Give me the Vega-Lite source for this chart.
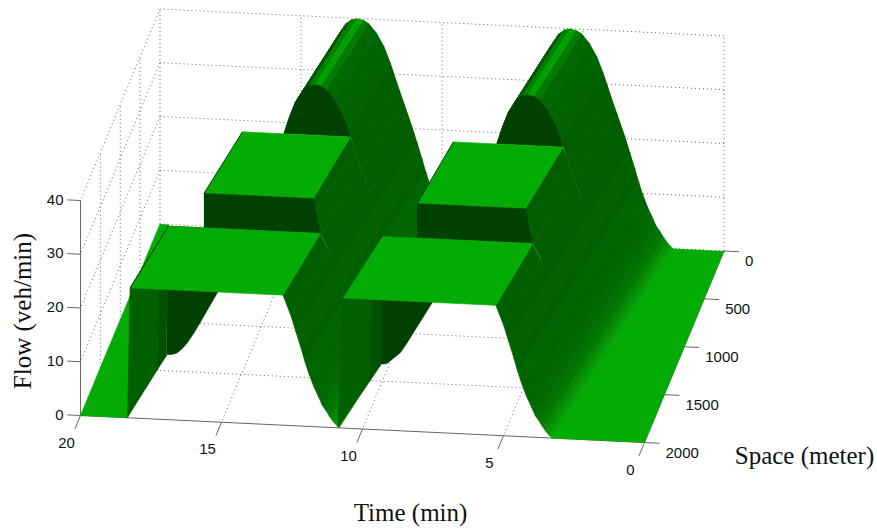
{"$schema":"https://vega.github.io/schema/vega-lite/v6.json","width":877,"height":532,"padding":0,"autosize":{"type":"none"},"background":"white","config":{"view":{"stroke":null}},
"datasets":{
"grid":[
{"g":"z0","t":0,"s":0,"z":0,"i":0},{"g":"z0","t":20,"s":0,"z":0,"i":1},
{"g":"z10","t":0,"s":0,"z":10,"i":0},{"g":"z10","t":20,"s":0,"z":10,"i":1},
{"g":"z20","t":0,"s":0,"z":20,"i":0},{"g":"z20","t":20,"s":0,"z":20,"i":1},
{"g":"z30","t":0,"s":0,"z":30,"i":0},{"g":"z30","t":20,"s":0,"z":30,"i":1},
{"g":"z40","t":0,"s":0,"z":40,"i":0},{"g":"z40","t":20,"s":0,"z":40,"i":1},
{"g":"t0","t":0,"s":0,"z":0,"i":0},{"g":"t0","t":0,"s":0,"z":40,"i":1},
{"g":"t5","t":5,"s":0,"z":0,"i":0},{"g":"t5","t":5,"s":0,"z":40,"i":1},
{"g":"t10","t":10,"s":0,"z":0,"i":0},{"g":"t10","t":10,"s":0,"z":40,"i":1},
{"g":"t15","t":15,"s":0,"z":0,"i":0},{"g":"t15","t":15,"s":0,"z":40,"i":1},
{"g":"t20","t":20,"s":0,"z":0,"i":0},{"g":"t20","t":20,"s":0,"z":40,"i":1},
{"g":"l10","t":20,"s":0,"z":10,"i":0},{"g":"l10","t":20,"s":2000,"z":10,"i":1},
{"g":"l20","t":20,"s":0,"z":20,"i":0},{"g":"l20","t":20,"s":2000,"z":20,"i":1},
{"g":"l30","t":20,"s":0,"z":30,"i":0},{"g":"l30","t":20,"s":2000,"z":30,"i":1},
{"g":"l40","t":20,"s":0,"z":40,"i":0},{"g":"l40","t":20,"s":2000,"z":40,"i":1},
{"g":"v500","t":20,"s":500,"z":0,"i":0},{"g":"v500","t":20,"s":500,"z":40,"i":1},
{"g":"v1000","t":20,"s":1000,"z":0,"i":0},{"g":"v1000","t":20,"s":1000,"z":40,"i":1},
{"g":"v1500","t":20,"s":1500,"z":0,"i":0},{"g":"v1500","t":20,"s":1500,"z":40,"i":1},
{"g":"f5","t":5,"s":0,"z":0,"i":0},{"g":"f5","t":5,"s":2000,"z":0,"i":1},
{"g":"f10","t":10,"s":0,"z":0,"i":0},{"g":"f10","t":10,"s":2000,"z":0,"i":1},
{"g":"f15","t":15,"s":0,"z":0,"i":0},{"g":"f15","t":15,"s":2000,"z":0,"i":1},
{"g":"h500","t":0,"s":500,"z":0,"i":0},{"g":"h500","t":20,"s":500,"z":0,"i":1},
{"g":"h1000","t":0,"s":1000,"z":0,"i":0},{"g":"h1000","t":20,"s":1000,"z":0,"i":1},
{"g":"h1500","t":0,"s":1500,"z":0,"i":0},{"g":"h1500","t":20,"s":1500,"z":0,"i":1}
],
"axes":[
{"g":"time","t":0,"s":2000,"z":0,"i":0},{"g":"time","t":20,"s":2000,"z":0,"i":1},
{"g":"space","t":0,"s":0,"z":0,"i":0},{"g":"space","t":0,"s":2000,"z":0,"i":1},
{"g":"flow","t":20,"s":2000,"z":0,"i":0},{"g":"flow","t":20,"s":2000,"z":40,"i":1},
{"g":"tt0","t":0,"s":2000,"z":0,"i":0},{"g":"tt0","t":0,"s":2140,"z":0,"i":1},
{"g":"tt5","t":5,"s":2000,"z":0,"i":0},{"g":"tt5","t":5,"s":2140,"z":0,"i":1},
{"g":"tt10","t":10,"s":2000,"z":0,"i":0},{"g":"tt10","t":10,"s":2140,"z":0,"i":1},
{"g":"tt15","t":15,"s":2000,"z":0,"i":0},{"g":"tt15","t":15,"s":2140,"z":0,"i":1},
{"g":"tt20","t":20,"s":2000,"z":0,"i":0},{"g":"tt20","t":20,"s":2140,"z":0,"i":1},
{"g":"st0","t":0,"s":0,"z":0,"i":0},{"g":"st0","t":-0.53,"s":0,"z":0,"i":1},
{"g":"st500","t":0,"s":500,"z":0,"i":0},{"g":"st500","t":-0.53,"s":500,"z":0,"i":1},
{"g":"st1000","t":0,"s":1000,"z":0,"i":0},{"g":"st1000","t":-0.53,"s":1000,"z":0,"i":1},
{"g":"st1500","t":0,"s":1500,"z":0,"i":0},{"g":"st1500","t":-0.53,"s":1500,"z":0,"i":1},
{"g":"st2000","t":0,"s":2000,"z":0,"i":0},{"g":"st2000","t":-0.53,"s":2000,"z":0,"i":1},
{"g":"zt0","t":20,"s":2000,"z":0,"i":0},{"g":"zt0","t":20.47,"s":2000,"z":0,"i":1},
{"g":"zt10","t":20,"s":2000,"z":10,"i":0},{"g":"zt10","t":20.47,"s":2000,"z":10,"i":1},
{"g":"zt20","t":20,"s":2000,"z":20,"i":0},{"g":"zt20","t":20.47,"s":2000,"z":20,"i":1},
{"g":"zt30","t":20,"s":2000,"z":30,"i":0},{"g":"zt30","t":20.47,"s":2000,"z":30,"i":1},
{"g":"zt40","t":20,"s":2000,"z":40,"i":0},{"g":"zt40","t":20.47,"s":2000,"z":40,"i":1}
],
"edges":[
{"g":"e1","t":18.24,"s":2000,"z":24.2,"i":0},{"g":"e1","t":17.8,"s":1350,"z":24.2,"i":1},
{"g":"e2","t":16.54,"s":1350,"z":30.6,"i":0},{"g":"e2","t":16.09,"s":700,"z":30.6,"i":1},
{"g":"e3","t":8.98,"s":1350,"z":30.6,"i":0},{"g":"e3","t":8.61,"s":700,"z":30.6,"i":1}
],
"faces":[
{"p":"floorL","f":"flat","i":0,"t":20,"s":0,"z":0},{"p":"floorL","f":"flat","i":1,"t":20,"s":2000,"z":0},{"p":"floorL","f":"flat","i":2,"t":18.33,"s":2000,"z":0},{"p":"floorL","f":"flat","i":3,"t":19.7,"s":0,"z":0},
{"p":"floorR","f":"flat","i":0,"t":1.8,"s":0,"z":0},{"p":"floorR","f":"flat","i":1,"t":3.28,"s":2000,"z":0},{"p":"floorR","f":"flat","i":2,"t":0,"s":2000,"z":0},{"p":"floorR","f":"flat","i":3,"t":0,"s":0,"z":0},

{"p":"bl1","f":"l1","i":0,"t":14.10,"s":0,"z":30.6},{"p":"bl1","f":"l1","i":1,"t":14.62,"s":700,"z":30.6},{"p":"bl1","f":"l1","i":2,"t":14.42,"s":700,"z":33.8},{"p":"bl1","f":"l1","i":3,"t":13.90,"s":0,"z":33.8},
{"p":"bl2","f":"l1","i":0,"t":13.90,"s":0,"z":33.8},{"p":"bl2","f":"l1","i":1,"t":14.42,"s":700,"z":33.8},{"p":"bl2","f":"l1","i":2,"t":14.22,"s":700,"z":36.5},{"p":"bl2","f":"l1","i":3,"t":13.70,"s":0,"z":36.5},
{"p":"bl3","f":"l3","i":0,"t":13.70,"s":0,"z":36.5},{"p":"bl3","f":"l3","i":1,"t":14.22,"s":700,"z":36.5},{"p":"bl3","f":"l3","i":2,"t":14.07,"s":700,"z":37.8},{"p":"bl3","f":"l3","i":3,"t":13.55,"s":0,"z":37.8},
{"p":"bl4","f":"l4","i":0,"t":13.55,"s":0,"z":37.8},{"p":"bl4","f":"l4","i":1,"t":14.07,"s":700,"z":37.8},{"p":"bl4","f":"l4","i":2,"t":13.92,"s":700,"z":39},{"p":"bl4","f":"l4","i":3,"t":13.40,"s":0,"z":39},
{"p":"bl5","f":"l5","i":0,"t":13.40,"s":0,"z":39},{"p":"bl5","f":"l5","i":1,"t":13.92,"s":700,"z":39},{"p":"bl5","f":"l5","i":2,"t":13.72,"s":700,"z":39.8},{"p":"bl5","f":"l5","i":3,"t":13.20,"s":0,"z":39.8},
{"p":"bl6","f":"l6","i":0,"t":13.20,"s":0,"z":39.8},{"p":"bl6","f":"l6","i":1,"t":13.72,"s":700,"z":39.8},{"p":"bl6","f":"l6","i":2,"t":13.52,"s":700,"z":40},{"p":"bl6","f":"l6","i":3,"t":13.00,"s":0,"z":40},

{"p":"bb01","f":"b01","i":0,"t":9.35,"s":0,"z":0},{"p":"bb01","f":"b01","i":1,"t":10.83,"s":2000,"z":0},{"p":"bb01","f":"b01","i":2,"t":10.93,"s":2000,"z":0.5},{"p":"bb01","f":"b01","i":3,"t":9.45,"s":0,"z":0.5},
{"p":"bb02","f":"b02","i":0,"t":9.45,"s":0,"z":0.5},{"p":"bb02","f":"b02","i":1,"t":10.93,"s":2000,"z":0.5},{"p":"bb02","f":"b02","i":2,"t":11.05,"s":2000,"z":1.2},{"p":"bb02","f":"b02","i":3,"t":9.57,"s":0,"z":1.2},
{"p":"bb03","f":"b03","i":0,"t":9.57,"s":0,"z":1.2},{"p":"bb03","f":"b03","i":1,"t":11.05,"s":2000,"z":1.2},{"p":"bb03","f":"b03","i":2,"t":11.16,"s":2000,"z":2},{"p":"bb03","f":"b03","i":3,"t":9.68,"s":0,"z":2},
{"p":"bb04","f":"b04","i":0,"t":9.68,"s":0,"z":2},{"p":"bb04","f":"b04","i":1,"t":11.16,"s":2000,"z":2},{"p":"bb04","f":"b04","i":2,"t":11.28,"s":2000,"z":3},{"p":"bb04","f":"b04","i":3,"t":9.80,"s":0,"z":3},
{"p":"bb05","f":"b05","i":0,"t":9.80,"s":0,"z":3},{"p":"bb05","f":"b05","i":1,"t":11.28,"s":2000,"z":3},{"p":"bb05","f":"b05","i":2,"t":11.42,"s":2000,"z":4},{"p":"bb05","f":"b05","i":3,"t":9.94,"s":0,"z":4},
{"p":"bb06","f":"b06","i":0,"t":9.94,"s":0,"z":4},{"p":"bb06","f":"b06","i":1,"t":11.42,"s":2000,"z":4},{"p":"bb06","f":"b06","i":2,"t":11.55,"s":2000,"z":5.5},{"p":"bb06","f":"b06","i":3,"t":10.07,"s":0,"z":5.5},
{"p":"bb07","f":"b07","i":0,"t":10.07,"s":0,"z":5.5},{"p":"bb07","f":"b07","i":1,"t":11.55,"s":2000,"z":5.5},{"p":"bb07","f":"b07","i":2,"t":11.73,"s":2000,"z":7.5},{"p":"bb07","f":"b07","i":3,"t":10.25,"s":0,"z":7.5},
{"p":"bb08","f":"b08","i":0,"t":10.25,"s":0,"z":7.5},{"p":"bb08","f":"b08","i":1,"t":11.73,"s":2000,"z":7.5},{"p":"bb08","f":"b08","i":2,"t":11.90,"s":2000,"z":9.8},{"p":"bb08","f":"b08","i":3,"t":10.42,"s":0,"z":9.8},
{"p":"bb09","f":"b09","i":0,"t":10.42,"s":0,"z":9.8},{"p":"bb09","f":"b09","i":1,"t":11.90,"s":2000,"z":9.8},{"p":"bb09","f":"b09","i":2,"t":12.04,"s":2000,"z":12},{"p":"bb09","f":"b09","i":3,"t":10.56,"s":0,"z":12},
{"p":"bb10","f":"b10","i":0,"t":10.56,"s":0,"z":12},{"p":"bb10","f":"b10","i":1,"t":12.04,"s":2000,"z":12},{"p":"bb10","f":"b10","i":2,"t":12.18,"s":2000,"z":14.5},{"p":"bb10","f":"b10","i":3,"t":10.70,"s":0,"z":14.5},
{"p":"bb11","f":"b11","i":0,"t":10.70,"s":0,"z":14.5},{"p":"bb11","f":"b11","i":1,"t":12.18,"s":2000,"z":14.5},{"p":"bb11","f":"b11","i":2,"t":12.36,"s":2000,"z":17.5},{"p":"bb11","f":"b11","i":3,"t":10.88,"s":0,"z":17.5},
{"p":"bb12","f":"b12","i":0,"t":10.88,"s":0,"z":17.5},{"p":"bb12","f":"b12","i":1,"t":12.36,"s":2000,"z":17.5},{"p":"bb12","f":"b12","i":2,"t":12.54,"s":2000,"z":20.5},{"p":"bb12","f":"b12","i":3,"t":11.06,"s":0,"z":20.5},

{"p":"bu1","f":"u1","i":0,"t":11.06,"s":0,"z":20.5},{"p":"bu1","f":"u1","i":1,"t":11.58,"s":700,"z":20.5},{"p":"bu1","f":"u1","i":2,"t":11.85,"s":700,"z":24.5},{"p":"bu1","f":"u1","i":3,"t":11.33,"s":0,"z":24.5},
{"p":"bu2","f":"u2","i":0,"t":11.33,"s":0,"z":24.5},{"p":"bu2","f":"u2","i":1,"t":11.85,"s":700,"z":24.5},{"p":"bu2","f":"u2","i":2,"t":12.11,"s":700,"z":28.4},{"p":"bu2","f":"u2","i":3,"t":11.59,"s":0,"z":28.4},
{"p":"bu3","f":"u1","i":0,"t":11.59,"s":0,"z":28.4},{"p":"bu3","f":"u1","i":1,"t":12.11,"s":700,"z":28.4},{"p":"bu3","f":"u1","i":2,"t":12.34,"s":700,"z":32},{"p":"bu3","f":"u1","i":3,"t":11.82,"s":0,"z":32},
{"p":"bu4","f":"u4","i":0,"t":11.82,"s":0,"z":32},{"p":"bu4","f":"u4","i":1,"t":12.34,"s":700,"z":32},{"p":"bu4","f":"u4","i":2,"t":12.57,"s":700,"z":35},{"p":"bu4","f":"u4","i":3,"t":12.05,"s":0,"z":35},
{"p":"bu5","f":"u5","i":0,"t":12.05,"s":0,"z":35},{"p":"bu5","f":"u5","i":1,"t":12.57,"s":700,"z":35},{"p":"bu5","f":"u5","i":2,"t":12.84,"s":700,"z":37.5},{"p":"bu5","f":"u5","i":3,"t":12.32,"s":0,"z":37.5},
{"p":"bu6","f":"u6","i":0,"t":12.32,"s":0,"z":37.5},{"p":"bu6","f":"u6","i":1,"t":12.84,"s":700,"z":37.5},{"p":"bu6","f":"u6","i":2,"t":13.12,"s":700,"z":39.2},{"p":"bu6","f":"u6","i":3,"t":12.60,"s":0,"z":39.2},
{"p":"bu7","f":"u7","i":0,"t":12.60,"s":0,"z":39.2},{"p":"bu7","f":"u7","i":1,"t":13.12,"s":700,"z":39.2},{"p":"bu7","f":"u7","i":2,"t":13.32,"s":700,"z":39.8},{"p":"bu7","f":"u7","i":3,"t":12.80,"s":0,"z":39.8},
{"p":"bu8","f":"u8","i":0,"t":12.80,"s":0,"z":39.8},{"p":"bu8","f":"u8","i":1,"t":13.32,"s":700,"z":39.8},{"p":"bu8","f":"u8","i":2,"t":13.52,"s":700,"z":40},{"p":"bu8","f":"u8","i":3,"t":13.00,"s":0,"z":40},

{"p":"barch","f":"section","i":0,"t":14.62,"s":700,"z":30.6},{"p":"barch","f":"section","i":1,"t":14.42,"s":700,"z":33.8},{"p":"barch","f":"section","i":2,"t":14.22,"s":700,"z":36.5},{"p":"barch","f":"section","i":3,"t":13.92,"s":700,"z":39},{"p":"barch","f":"section","i":4,"t":13.72,"s":700,"z":39.8},{"p":"barch","f":"section","i":5,"t":13.52,"s":700,"z":40},{"p":"barch","f":"section","i":6,"t":13.32,"s":700,"z":39.8},{"p":"barch","f":"section","i":7,"t":13.12,"s":700,"z":39.2},{"p":"barch","f":"section","i":8,"t":12.84,"s":700,"z":37.5},{"p":"barch","f":"section","i":9,"t":12.57,"s":700,"z":35},{"p":"barch","f":"section","i":10,"t":12.34,"s":700,"z":32},{"p":"barch","f":"section","i":11,"t":12.26,"s":700,"z":30.6},

{"p":"bm1","f":"u1","i":0,"t":11.58,"s":700,"z":20.5},{"p":"bm1","f":"u1","i":1,"t":12.06,"s":1350,"z":20.5},{"p":"bm1","f":"u1","i":2,"t":12.33,"s":1350,"z":24.5},{"p":"bm1","f":"u1","i":3,"t":11.85,"s":700,"z":24.5},
{"p":"bm2","f":"u2","i":0,"t":11.85,"s":700,"z":24.5},{"p":"bm2","f":"u2","i":1,"t":12.33,"s":1350,"z":24.5},{"p":"bm2","f":"u2","i":2,"t":12.59,"s":1350,"z":28.4},{"p":"bm2","f":"u2","i":3,"t":12.11,"s":700,"z":28.4},
{"p":"bm3","f":"u1","i":0,"t":12.11,"s":700,"z":28.4},{"p":"bm3","f":"u1","i":1,"t":12.59,"s":1350,"z":28.4},{"p":"bm3","f":"u1","i":2,"t":12.67,"s":1350,"z":30.6},{"p":"bm3","f":"u1","i":3,"t":12.26,"s":700,"z":30.6},
{"p":"bn1","f":"u2","i":0,"t":12.06,"s":1350,"z":20.5},{"p":"bn1","f":"u2","i":1,"t":12.54,"s":2000,"z":20.5},{"p":"bn1","f":"u2","i":2,"t":12.82,"s":2000,"z":24.2},{"p":"bn1","f":"u2","i":3,"t":12.41,"s":1350,"z":24.2},
{"p":"bpatch","f":"u1","i":0,"t":12.06,"s":1350,"z":20.5},{"p":"bpatch","f":"u1","i":1,"t":12.33,"s":1350,"z":24.5},{"p":"bpatch","f":"u1","i":2,"t":12.59,"s":1350,"z":28.4},{"p":"bpatch","f":"u1","i":3,"t":12.67,"s":1350,"z":30.6},{"p":"bpatch","f":"u1","i":4,"t":12.41,"s":1350,"z":24.2},

{"p":"bback","f":"flat","i":0,"t":16.54,"s":1350,"z":30.6},{"p":"bback","f":"flat","i":1,"t":12.67,"s":1350,"z":30.6},{"p":"bback","f":"flat","i":2,"t":12.26,"s":700,"z":30.6},{"p":"bback","f":"flat","i":3,"t":16.09,"s":700,"z":30.6},
{"p":"bstep","f":"section","i":0,"t":16.54,"s":1350,"z":30.6},{"p":"bstep","f":"section","i":1,"t":12.67,"s":1350,"z":30.6},{"p":"bstep","f":"section","i":2,"t":12.41,"s":1350,"z":24.2},{"p":"bstep","f":"section","i":3,"t":16.54,"s":1350,"z":24.2},
{"p":"bsec","f":"section","i":0,"t":17.85,"s":1350,"z":0.3},{"p":"bsec","f":"section","i":1,"t":17.65,"s":1350,"z":0.4},{"p":"bsec","f":"section","i":2,"t":17.49,"s":1350,"z":0.7},{"p":"bsec","f":"section","i":3,"t":17.3,"s":1350,"z":1.6},{"p":"bsec","f":"section","i":4,"t":17.14,"s":1350,"z":2.6},{"p":"bsec","f":"section","i":5,"t":16.9,"s":1350,"z":4.5},{"p":"bsec","f":"section","i":6,"t":16.68,"s":1350,"z":6.5},{"p":"bsec","f":"section","i":7,"t":16.07,"s":1350,"z":12.2},{"p":"bsec","f":"section","i":8,"t":16.07,"s":1350,"z":24.2},{"p":"bsec","f":"section","i":9,"t":17.85,"s":1350,"z":24.2},
{"p":"bwall1","f":"wall1","i":0,"t":18.33,"s":2000,"z":0},{"p":"bwall1","f":"wall1","i":1,"t":18.24,"s":2000,"z":24.2},{"p":"bwall1","f":"wall1","i":2,"t":17.9,"s":1500,"z":24.2},{"p":"bwall1","f":"wall1","i":3,"t":17.98,"s":1500,"z":0},
{"p":"bwall2","f":"wall2","i":0,"t":17.98,"s":1500,"z":0},{"p":"bwall2","f":"wall2","i":1,"t":17.9,"s":1500,"z":24.2},{"p":"bwall2","f":"wall2","i":2,"t":17.8,"s":1350,"z":24.2},{"p":"bwall2","f":"wall2","i":3,"t":17.87,"s":1350,"z":0},
{"p":"bfront","f":"flat","i":0,"t":18.24,"s":2000,"z":24.2},{"p":"bfront","f":"flat","i":1,"t":12.82,"s":2000,"z":24.2},{"p":"bfront","f":"flat","i":2,"t":12.41,"s":1350,"z":24.2},{"p":"bfront","f":"flat","i":3,"t":17.8,"s":1350,"z":24.2},

{"p":"al1","f":"l1","i":0,"t":6.55,"s":0,"z":30.6},{"p":"al1","f":"l1","i":1,"t":7.07,"s":700,"z":30.6},{"p":"al1","f":"l1","i":2,"t":6.87,"s":700,"z":33.8},{"p":"al1","f":"l1","i":3,"t":6.35,"s":0,"z":33.8},
{"p":"al2","f":"l1","i":0,"t":6.35,"s":0,"z":33.8},{"p":"al2","f":"l1","i":1,"t":6.87,"s":700,"z":33.8},{"p":"al2","f":"l1","i":2,"t":6.67,"s":700,"z":36.5},{"p":"al2","f":"l1","i":3,"t":6.15,"s":0,"z":36.5},
{"p":"al3","f":"l3","i":0,"t":6.15,"s":0,"z":36.5},{"p":"al3","f":"l3","i":1,"t":6.67,"s":700,"z":36.5},{"p":"al3","f":"l3","i":2,"t":6.52,"s":700,"z":37.8},{"p":"al3","f":"l3","i":3,"t":6.0,"s":0,"z":37.8},
{"p":"al4","f":"l4","i":0,"t":6.0,"s":0,"z":37.8},{"p":"al4","f":"l4","i":1,"t":6.52,"s":700,"z":37.8},{"p":"al4","f":"l4","i":2,"t":6.37,"s":700,"z":39},{"p":"al4","f":"l4","i":3,"t":5.85,"s":0,"z":39},
{"p":"al5","f":"l5","i":0,"t":5.85,"s":0,"z":39},{"p":"al5","f":"l5","i":1,"t":6.37,"s":700,"z":39},{"p":"al5","f":"l5","i":2,"t":6.17,"s":700,"z":39.8},{"p":"al5","f":"l5","i":3,"t":5.65,"s":0,"z":39.8},
{"p":"al6","f":"l6","i":0,"t":5.65,"s":0,"z":39.8},{"p":"al6","f":"l6","i":1,"t":6.17,"s":700,"z":39.8},{"p":"al6","f":"l6","i":2,"t":5.97,"s":700,"z":40},{"p":"al6","f":"l6","i":3,"t":5.45,"s":0,"z":40},

{"p":"ab01","f":"b01","i":0,"t":1.80,"s":0,"z":0},{"p":"ab01","f":"b01","i":1,"t":3.28,"s":2000,"z":0},{"p":"ab01","f":"b01","i":2,"t":3.38,"s":2000,"z":0.5},{"p":"ab01","f":"b01","i":3,"t":1.90,"s":0,"z":0.5},
{"p":"ab02","f":"b02","i":0,"t":1.90,"s":0,"z":0.5},{"p":"ab02","f":"b02","i":1,"t":3.38,"s":2000,"z":0.5},{"p":"ab02","f":"b02","i":2,"t":3.50,"s":2000,"z":1.2},{"p":"ab02","f":"b02","i":3,"t":2.02,"s":0,"z":1.2},
{"p":"ab03","f":"b03","i":0,"t":2.02,"s":0,"z":1.2},{"p":"ab03","f":"b03","i":1,"t":3.50,"s":2000,"z":1.2},{"p":"ab03","f":"b03","i":2,"t":3.61,"s":2000,"z":2},{"p":"ab03","f":"b03","i":3,"t":2.13,"s":0,"z":2},
{"p":"ab04","f":"b04","i":0,"t":2.13,"s":0,"z":2},{"p":"ab04","f":"b04","i":1,"t":3.61,"s":2000,"z":2},{"p":"ab04","f":"b04","i":2,"t":3.73,"s":2000,"z":3},{"p":"ab04","f":"b04","i":3,"t":2.25,"s":0,"z":3},
{"p":"ab05","f":"b05","i":0,"t":2.25,"s":0,"z":3},{"p":"ab05","f":"b05","i":1,"t":3.73,"s":2000,"z":3},{"p":"ab05","f":"b05","i":2,"t":3.87,"s":2000,"z":4},{"p":"ab05","f":"b05","i":3,"t":2.39,"s":0,"z":4},
{"p":"ab06","f":"b06","i":0,"t":2.39,"s":0,"z":4},{"p":"ab06","f":"b06","i":1,"t":3.87,"s":2000,"z":4},{"p":"ab06","f":"b06","i":2,"t":4.00,"s":2000,"z":5.5},{"p":"ab06","f":"b06","i":3,"t":2.52,"s":0,"z":5.5},
{"p":"ab07","f":"b07","i":0,"t":2.52,"s":0,"z":5.5},{"p":"ab07","f":"b07","i":1,"t":4.00,"s":2000,"z":5.5},{"p":"ab07","f":"b07","i":2,"t":4.18,"s":2000,"z":7.5},{"p":"ab07","f":"b07","i":3,"t":2.70,"s":0,"z":7.5},
{"p":"ab08","f":"b08","i":0,"t":2.70,"s":0,"z":7.5},{"p":"ab08","f":"b08","i":1,"t":4.18,"s":2000,"z":7.5},{"p":"ab08","f":"b08","i":2,"t":4.35,"s":2000,"z":9.8},{"p":"ab08","f":"b08","i":3,"t":2.87,"s":0,"z":9.8},
{"p":"ab09","f":"b09","i":0,"t":2.87,"s":0,"z":9.8},{"p":"ab09","f":"b09","i":1,"t":4.35,"s":2000,"z":9.8},{"p":"ab09","f":"b09","i":2,"t":4.49,"s":2000,"z":12},{"p":"ab09","f":"b09","i":3,"t":3.01,"s":0,"z":12},
{"p":"ab10","f":"b10","i":0,"t":3.01,"s":0,"z":12},{"p":"ab10","f":"b10","i":1,"t":4.49,"s":2000,"z":12},{"p":"ab10","f":"b10","i":2,"t":4.63,"s":2000,"z":14.5},{"p":"ab10","f":"b10","i":3,"t":3.15,"s":0,"z":14.5},
{"p":"ab11","f":"b11","i":0,"t":3.15,"s":0,"z":14.5},{"p":"ab11","f":"b11","i":1,"t":4.63,"s":2000,"z":14.5},{"p":"ab11","f":"b11","i":2,"t":4.81,"s":2000,"z":17.5},{"p":"ab11","f":"b11","i":3,"t":3.33,"s":0,"z":17.5},
{"p":"ab12","f":"b12","i":0,"t":3.33,"s":0,"z":17.5},{"p":"ab12","f":"b12","i":1,"t":4.81,"s":2000,"z":17.5},{"p":"ab12","f":"b12","i":2,"t":4.99,"s":2000,"z":20.5},{"p":"ab12","f":"b12","i":3,"t":3.51,"s":0,"z":20.5},

{"p":"au1","f":"u1","i":0,"t":3.51,"s":0,"z":20.5},{"p":"au1","f":"u1","i":1,"t":4.03,"s":700,"z":20.5},{"p":"au1","f":"u1","i":2,"t":4.30,"s":700,"z":24.5},{"p":"au1","f":"u1","i":3,"t":3.78,"s":0,"z":24.5},
{"p":"au2","f":"u2","i":0,"t":3.78,"s":0,"z":24.5},{"p":"au2","f":"u2","i":1,"t":4.30,"s":700,"z":24.5},{"p":"au2","f":"u2","i":2,"t":4.56,"s":700,"z":28.4},{"p":"au2","f":"u2","i":3,"t":4.04,"s":0,"z":28.4},
{"p":"au3","f":"u1","i":0,"t":4.04,"s":0,"z":28.4},{"p":"au3","f":"u1","i":1,"t":4.56,"s":700,"z":28.4},{"p":"au3","f":"u1","i":2,"t":4.79,"s":700,"z":32},{"p":"au3","f":"u1","i":3,"t":4.27,"s":0,"z":32},
{"p":"au4","f":"u4","i":0,"t":4.27,"s":0,"z":32},{"p":"au4","f":"u4","i":1,"t":4.79,"s":700,"z":32},{"p":"au4","f":"u4","i":2,"t":5.02,"s":700,"z":35},{"p":"au4","f":"u4","i":3,"t":4.50,"s":0,"z":35},
{"p":"au5","f":"u5","i":0,"t":4.50,"s":0,"z":35},{"p":"au5","f":"u5","i":1,"t":5.02,"s":700,"z":35},{"p":"au5","f":"u5","i":2,"t":5.29,"s":700,"z":37.5},{"p":"au5","f":"u5","i":3,"t":4.77,"s":0,"z":37.5},
{"p":"au6","f":"u6","i":0,"t":4.77,"s":0,"z":37.5},{"p":"au6","f":"u6","i":1,"t":5.29,"s":700,"z":37.5},{"p":"au6","f":"u6","i":2,"t":5.57,"s":700,"z":39.2},{"p":"au6","f":"u6","i":3,"t":5.05,"s":0,"z":39.2},
{"p":"au7","f":"u7","i":0,"t":5.05,"s":0,"z":39.2},{"p":"au7","f":"u7","i":1,"t":5.57,"s":700,"z":39.2},{"p":"au7","f":"u7","i":2,"t":5.77,"s":700,"z":39.8},{"p":"au7","f":"u7","i":3,"t":5.25,"s":0,"z":39.8},
{"p":"au8","f":"u8","i":0,"t":5.25,"s":0,"z":39.8},{"p":"au8","f":"u8","i":1,"t":5.77,"s":700,"z":39.8},{"p":"au8","f":"u8","i":2,"t":5.97,"s":700,"z":40},{"p":"au8","f":"u8","i":3,"t":5.45,"s":0,"z":40},

{"p":"aarch","f":"section","i":0,"t":7.07,"s":700,"z":30.6},{"p":"aarch","f":"section","i":1,"t":6.87,"s":700,"z":33.8},{"p":"aarch","f":"section","i":2,"t":6.67,"s":700,"z":36.5},{"p":"aarch","f":"section","i":3,"t":6.37,"s":700,"z":39},{"p":"aarch","f":"section","i":4,"t":6.17,"s":700,"z":39.8},{"p":"aarch","f":"section","i":5,"t":5.97,"s":700,"z":40},{"p":"aarch","f":"section","i":6,"t":5.77,"s":700,"z":39.8},{"p":"aarch","f":"section","i":7,"t":5.57,"s":700,"z":39.2},{"p":"aarch","f":"section","i":8,"t":5.29,"s":700,"z":37.5},{"p":"aarch","f":"section","i":9,"t":5.02,"s":700,"z":35},{"p":"aarch","f":"section","i":10,"t":4.79,"s":700,"z":32},{"p":"aarch","f":"section","i":11,"t":4.72,"s":700,"z":30.6},

{"p":"am1","f":"u1","i":0,"t":4.03,"s":700,"z":20.5},{"p":"am1","f":"u1","i":1,"t":4.51,"s":1350,"z":20.5},{"p":"am1","f":"u1","i":2,"t":4.78,"s":1350,"z":24.5},{"p":"am1","f":"u1","i":3,"t":4.30,"s":700,"z":24.5},
{"p":"am2","f":"u2","i":0,"t":4.30,"s":700,"z":24.5},{"p":"am2","f":"u2","i":1,"t":4.78,"s":1350,"z":24.5},{"p":"am2","f":"u2","i":2,"t":5.04,"s":1350,"z":28.4},{"p":"am2","f":"u2","i":3,"t":4.56,"s":700,"z":28.4},
{"p":"am3","f":"u1","i":0,"t":4.56,"s":700,"z":28.4},{"p":"am3","f":"u1","i":1,"t":5.04,"s":1350,"z":28.4},{"p":"am3","f":"u1","i":2,"t":5.14,"s":1350,"z":30.6},{"p":"am3","f":"u1","i":3,"t":4.72,"s":700,"z":30.6},
{"p":"an1","f":"u2","i":0,"t":4.51,"s":1350,"z":20.5},{"p":"an1","f":"u2","i":1,"t":4.99,"s":2000,"z":20.5},{"p":"an1","f":"u2","i":2,"t":5.27,"s":2000,"z":24.2},{"p":"an1","f":"u2","i":3,"t":4.88,"s":1350,"z":24.2},
{"p":"apatch","f":"u1","i":0,"t":4.51,"s":1350,"z":20.5},{"p":"apatch","f":"u1","i":1,"t":4.78,"s":1350,"z":24.5},{"p":"apatch","f":"u1","i":2,"t":5.04,"s":1350,"z":28.4},{"p":"apatch","f":"u1","i":3,"t":5.14,"s":1350,"z":30.6},{"p":"apatch","f":"u1","i":4,"t":4.88,"s":1350,"z":24.2},

{"p":"aback","f":"flat","i":0,"t":8.98,"s":1350,"z":30.6},{"p":"aback","f":"flat","i":1,"t":5.14,"s":1350,"z":30.6},{"p":"aback","f":"flat","i":2,"t":4.72,"s":700,"z":30.6},{"p":"aback","f":"flat","i":3,"t":8.61,"s":700,"z":30.6},
{"p":"astep","f":"section","i":0,"t":8.98,"s":1350,"z":30.6},{"p":"astep","f":"section","i":1,"t":5.14,"s":1350,"z":30.6},{"p":"astep","f":"section","i":2,"t":4.88,"s":1350,"z":24.2},{"p":"astep","f":"section","i":3,"t":8.98,"s":1350,"z":24.2},
{"p":"asec","f":"section","i":0,"t":10.29,"s":1350,"z":0.4},{"p":"asec","f":"section","i":1,"t":10.05,"s":1350,"z":0.6},{"p":"asec","f":"section","i":2,"t":9.85,"s":1350,"z":1.5},{"p":"asec","f":"section","i":3,"t":9.58,"s":1350,"z":2.7},{"p":"asec","f":"section","i":4,"t":9.35,"s":1350,"z":4.5},{"p":"asec","f":"section","i":5,"t":9.12,"s":1350,"z":6.5},{"p":"asec","f":"section","i":6,"t":8.45,"s":1350,"z":12.3},{"p":"asec","f":"section","i":7,"t":8.45,"s":1350,"z":24.2},{"p":"asec","f":"section","i":8,"t":10.29,"s":1350,"z":24.2},
{"p":"awall1","f":"wall1","i":0,"t":10.87,"s":2000,"z":0},{"p":"awall1","f":"wall1","i":1,"t":10.69,"s":2000,"z":24.2},{"p":"awall1","f":"wall1","i":2,"t":10.32,"s":1500,"z":24.2},{"p":"awall1","f":"wall1","i":3,"t":10.42,"s":1500,"z":0},
{"p":"awall2","f":"wall2","i":0,"t":10.42,"s":1500,"z":0},{"p":"awall2","f":"wall2","i":1,"t":10.32,"s":1500,"z":24.2},{"p":"awall2","f":"wall2","i":2,"t":10.21,"s":1350,"z":24.2},{"p":"awall2","f":"wall2","i":3,"t":10.29,"s":1350,"z":0},
{"p":"afront","f":"flat","i":0,"t":10.69,"s":2000,"z":24.2},{"p":"afront","f":"flat","i":1,"t":5.27,"s":2000,"z":24.2},{"p":"afront","f":"flat","i":2,"t":4.88,"s":1350,"z":24.2},{"p":"afront","f":"flat","i":3,"t":10.21,"s":1350,"z":24.2}
],
"tLabels":[{"t":0,"s":2000,"z":0,"label":"0"},{"t":5,"s":2000,"z":0,"label":"5"},{"t":10,"s":2000,"z":0,"label":"10"},{"t":15,"s":2000,"z":0,"label":"15"},{"t":20,"s":2000,"z":0,"label":"20"}],
"sLabels":[{"t":0,"s":0,"z":0,"label":"0"},{"t":0,"s":500,"z":0,"label":"500"},{"t":0,"s":1000,"z":0,"label":"1000"},{"t":0,"s":1500,"z":0,"label":"1500"},{"t":0,"s":2000,"z":0,"label":"2000"}],
"zLabels":[{"t":20,"s":2000,"z":0,"label":"0"},{"t":20,"s":2000,"z":10,"label":"10"},{"t":20,"s":2000,"z":20,"label":"20"},{"t":20,"s":2000,"z":30,"label":"30"},{"t":20,"s":2000,"z":40,"label":"40"}],
"timeTitle":[{"t":10,"s":2000,"z":0,"label":"Time (min)"}],
"spaceTitle":[{"t":0,"s":2000,"z":0,"label":"Space (meter)"}],
"flowTitle":[{"t":20,"s":2000,"z":20,"label":"Flow (veh/min)"}]
},
"encoding":{
"x":{"field":"X","type":"quantitative","scale":{"domain":[0,877],"nice":false,"zero":false},"axis":null},
"y":{"field":"Y","type":"quantitative","scale":{"domain":[532,0],"nice":false,"zero":false},"axis":null}
},
"layer":[
{"data":{"name":"grid"},"transform":[{"calculate":"724-28.2*datum.t-0.03975*datum.s","as":"X"},{"calculate":"251-1.35*datum.t+0.09575*datum.s-5.375*datum.z","as":"Y"}],
"mark":{"type":"line","stroke":"#666666","strokeWidth":1,"strokeDash":[1,3]},"encoding":{"detail":{"field":"g"},"order":{"field":"i","type":"quantitative"}}},
{"data":{"name":"axes"},"transform":[{"calculate":"724-28.2*datum.t-0.03975*datum.s","as":"X"},{"calculate":"251-1.35*datum.t+0.09575*datum.s-5.375*datum.z","as":"Y"}],
"mark":{"type":"line","stroke":"#666666","strokeWidth":1},"encoding":{"detail":{"field":"g"},"order":{"field":"i","type":"quantitative"}}},
{"data":{"name":"faces"},"transform":[{"calculate":"724-28.2*datum.t-0.03975*datum.s","as":"X"},{"calculate":"251-1.35*datum.t+0.09575*datum.s-5.375*datum.z","as":"Y"}],
"mark":{"type":"line","strokeWidth":0.7,"filled":true},
"encoding":{"detail":{"field":"p"},"order":{"field":"i","type":"quantitative"},
"fill":{"field":"f","type":"nominal","legend":null,"scale":{"domain":["flat","section","wall1","wall2","b01","b02","b03","b04","b05","b06","b07","b08","b09","b10","b11","b12","u1","u2","u4","u5","u6","u7","u8","l1","l3","l4","l5","l6"],"range":["#05ab05","#004000","#006000","#005200","#05a305","#049404","#038603","#027a02","#027002","#016a01","#016801","#006400","#006600","#006000","#006300","#005e00","#005e00","#006000","#006200","#006400","#006800","#007a00","#00a000","#004800","#004c00","#005000","#005a00","#008000"]}},
"stroke":{"field":"f","type":"nominal","legend":null,"scale":{"domain":["flat","section","wall1","wall2","b01","b02","b03","b04","b05","b06","b07","b08","b09","b10","b11","b12","u1","u2","u4","u5","u6","u7","u8","l1","l3","l4","l5","l6"],"range":["#05ab05","#004000","#006000","#005200","#05a305","#049404","#038603","#027a02","#027002","#016a01","#016801","#006400","#006600","#006000","#006300","#005e00","#005e00","#006000","#006200","#006400","#006800","#007a00","#00a000","#004800","#004c00","#005000","#005a00","#008000"]}}}},
{"data":{"name":"edges"},"transform":[{"calculate":"724-28.2*datum.t-0.03975*datum.s","as":"X"},{"calculate":"251-1.35*datum.t+0.09575*datum.s-5.375*datum.z","as":"Y"}],
"mark":{"type":"line","stroke":"#004000","strokeWidth":1},"encoding":{"detail":{"field":"g"},"order":{"field":"i","type":"quantitative"}}},
{"data":{"name":"tLabels"},"transform":[{"calculate":"724-28.2*datum.t-0.03975*datum.s","as":"X"},{"calculate":"251-1.35*datum.t+0.09575*datum.s-5.375*datum.z","as":"Y"}],
"mark":{"type":"text","font":"Liberation Sans","fontSize":15,"color":"#111111","dx":-14,"dy":27,"align":"center","baseline":"middle"},"encoding":{"text":{"field":"label"}}},
{"data":{"name":"sLabels"},"transform":[{"calculate":"724-28.2*datum.t-0.03975*datum.s","as":"X"},{"calculate":"251-1.35*datum.t+0.09575*datum.s-5.375*datum.z","as":"Y"}],
"mark":{"type":"text","font":"Liberation Sans","fontSize":15,"color":"#111111","dx":21,"dy":10,"align":"left","baseline":"middle"},"encoding":{"text":{"field":"label"}}},
{"data":{"name":"zLabels"},"transform":[{"calculate":"724-28.2*datum.t-0.03975*datum.s","as":"X"},{"calculate":"251-1.35*datum.t+0.09575*datum.s-5.375*datum.z","as":"Y"}],
"mark":{"type":"text","font":"Liberation Sans","fontSize":15,"color":"#111111","dx":-17,"dy":-1,"align":"right","baseline":"middle"},"encoding":{"text":{"field":"label"}}},
{"data":{"name":"timeTitle"},"transform":[{"calculate":"724-28.2*datum.t-0.03975*datum.s","as":"X"},{"calculate":"251-1.35*datum.t+0.09575*datum.s-5.375*datum.z","as":"Y"}],
"mark":{"type":"text","font":"Liberation Serif","fontSize":25,"color":"#111111","dx":48,"dy":84,"align":"center","baseline":"middle"},"encoding":{"text":{"field":"label"}}},
{"data":{"name":"spaceTitle"},"transform":[{"calculate":"724-28.2*datum.t-0.03975*datum.s","as":"X"},{"calculate":"251-1.35*datum.t+0.09575*datum.s-5.375*datum.z","as":"Y"}],
"mark":{"type":"text","font":"Liberation Serif","fontSize":25,"color":"#111111","dx":160,"dy":13,"align":"center","baseline":"middle"},"encoding":{"text":{"field":"label"}}},
{"data":{"name":"flowTitle"},"transform":[{"calculate":"724-28.2*datum.t-0.03975*datum.s","as":"X"},{"calculate":"251-1.35*datum.t+0.09575*datum.s-5.375*datum.z","as":"Y"}],
"mark":{"type":"text","font":"Liberation Serif","fontSize":25,"color":"#111111","angle":270,"dx":-3,"dy":-58,"align":"center","baseline":"middle"},"encoding":{"text":{"field":"label"}}}
]}
